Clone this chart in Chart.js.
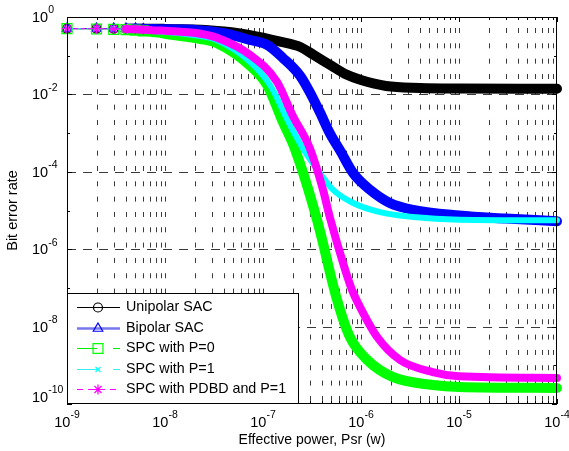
<!DOCTYPE html>
<html>
<head>
<meta charset="utf-8">
<title>Bit error rate vs effective power</title>
<script src="https://cdn.jsdelivr.net/npm/chart.js@4.4.1/dist/chart.umd.min.js"></script>
<style>
html,body{margin:0;padding:0;background:#ffffff;overflow:hidden;}
#c{display:block;}
</style>
</head>
<body>
<canvas id="c" width="569" height="451"></canvas>
<script>
const FONT = '"Liberation Sans", Arial, Helvetica, sans-serif';

// ---- data ----
const seriesNames = ['Unipolar SAC', 'Bipolar SAC', 'SPC with P=0', 'SPC with P=1', 'SPC with PDBD and P=1'];

const xUnipolar = [1e-9,2e-9,3e-9,4e-9,5e-9,6e-9,7e-9,8e-9,9e-9,1e-8,2.3e-8,4e-8,7.4e-8,1.5e-7,2.4e-7,3.3e-7,5e-7,7e-7,1e-6,1.8e-6,4e-6,1e-5,1e-4];
const yUnipolar = [0.5,0.5,0.5,0.5,0.5,0.5,0.5,0.5,0.5,0.49,0.47,0.42,0.34,0.23,0.168,0.104,0.055,0.033,0.0235,0.0165,0.0147,0.0142,0.014];

const xBipolar = [1e-9,2e-9,3e-9,4e-9,5e-9,6e-9,7e-9,8e-9,9e-9,1e-8,2.3e-8,4e-8,7.4e-8,1.1e-7,1.6e-7,2.4e-7,3e-7,3.8e-7,4.8e-7,6.1e-7,8.3e-7,1.24e-6,1.97e-6,3.4e-6,1e-5,3e-5,1e-4];
const yBipolar = [0.5,0.5,0.5,0.5,0.5,0.49,0.49,0.49,0.48,0.48,0.45,0.38,0.255,0.19,0.087,0.03,0.0115,3.5e-3,1e-3,3.6e-4,9.3e-5,3.4e-5,1.56e-5,1.03e-5,7.4e-6,6.2e-6,5.3e-6];

const xSpcP0 = [1e-9,2e-9,3e-9,4e-9,5e-9,6e-9,7e-9,8e-9,9e-9,1e-8,2.3e-8,3.4e-8,7.4e-8,1.1e-7,1.6e-7,2.1e-7,3.56e-7,5.7e-7,7.7e-7,1.15e-6,2.1e-6,5.4e-6,1e-5,1e-4];
const ySpcP0 = [0.5,0.49,0.48,0.47,0.46,0.44,0.42,0.40,0.39,0.37,0.27,0.21,0.055,0.0175,1.9e-3,4.1e-4,5.7e-6,4.9e-8,5.4e-9,1.4e-9,5.0e-10,3.1e-10,2.75e-10,2.6e-10];

const xSpcP1 = [1e-9,2e-9,3e-9,4e-9,5e-9,6e-9,7e-9,8e-9,9e-9,1e-8,2.3e-8,3.4e-8,7.4e-8,1.18e-7,1.89e-7,2.5e-7,3.8e-7,5.2e-7,8.3e-7,1.56e-6,3.4e-6,1e-5,1e-4];
const ySpcP1 = [0.5,0.5,0.49,0.48,0.47,0.46,0.45,0.43,0.42,0.41,0.32,0.25,0.069,0.0175,1.6e-3,4.4e-4,9.3e-5,3.4e-5,1.56e-5,9.1e-6,6.8e-6,5.8e-6,5.6e-6];

const xPdbd = [1e-9,2e-9,3e-9,4e-9,5e-9,6e-9,7e-9,8e-9,9e-9,1e-8,2.3e-8,3.4e-8,7.4e-8,1.39e-7,2.0e-7,3.0e-7,4.1e-7,4.8e-7,6.9e-7,8.1e-7,9.3e-7,1.46e-6,2.5e-6,5.4e-6,1e-5,1e-4];
const yPdbd = [0.5,0.5,0.49,0.49,0.48,0.47,0.46,0.45,0.45,0.44,0.37,0.29,0.104,0.021,2.9e-3,4.1e-4,3.4e-5,6.8e-6,2.9e-7,8.8e-8,4.1e-8,5.4e-9,1.37e-9,6.7e-10,5.2e-10,4.7e-10];

const xTickExponents = [-9, -8, -7, -6, -5, -4];
const yTickExponents = [0, -2, -4, -6, -8, -10];
const xTitle = 'Effective power, Psr (w)';
const yTitle = 'Bit error rate';

// ---- styles ----
const styles = [
  {color:'#000000', band:10, marker:'circle',   r:4.5, dash:[],    legColor:'#000000', legWidth:1},
  {color:'#0000ff', band:10, marker:'triangle', r:5.5, dash:[],    legColor:'#7777ee', legWidth:2.5},
  {color:'#00ff00', band:10, marker:'rect',     r:7,   dash:[6,4], legColor:'#00ee00', legWidth:1, legDash:[20,16]},
  {color:'#00ffff', band:6,  marker:'crossRot', r:3.5, dash:[6,4], legColor:'#33eeee', legWidth:1, legDash:[20,16]},
  {color:'#ff00ff', band:8,  marker:'star',     r:5,   dash:[4,3], legColor:'#ff00ff', legWidth:1, legDash:[6,5]}
];

const xs = [xUnipolar, xBipolar, xSpcP0, xSpcP1, xPdbd];
const ys = [yUnipolar, yBipolar, ySpcP0, ySpcP1, yPdbd];

function pts(xa, ya) { return xa.map((x, i) => ({x: x, y: ya[i]})); }

const datasets = seriesNames.map((name, i) => {
  const s = styles[i];
  return {
    label: name,
    data: pts(xs[i], ys[i]),
    borderColor: s.color,
    backgroundColor: 'rgba(0,0,0,0)',
    borderWidth: s.band,
    pointStyle: s.marker,
    pointBorderColor: s.color,
    pointBackgroundColor: 'rgba(0,0,0,0)',
    pointBorderWidth: 1.3,
    pointRadius: ctx => (ctx.dataIndex < 6 ? s.r : 0),
    pointHoverRadius: 0,
    cubicInterpolationMode: 'monotone',
    borderCapStyle: 'round',
    borderJoinStyle: 'round',
    fill: false,
    clip: 12,
    order: 4 - i,
    segment: {
      borderWidth: c => (c.p0DataIndex < 3 ? 1 : s.band),
      borderDash: c => (c.p0DataIndex < 3 ? s.dash : [])
    }
  };
});

function drawPow(ctx, exp, x, y, mode) {
  const baseFont = '14.5px ' + FONT;
  const expFont = '10.5px ' + FONT;
  ctx.font = baseFont;
  const wb = ctx.measureText('10').width;
  ctx.font = expFont;
  const we = ctx.measureText(String(exp)).width;
  let x0;
  if (mode === 'center') x0 = x - (wb + we) / 2; else x0 = x;
  ctx.fillStyle = '#000';
  ctx.textAlign = 'left';
  ctx.textBaseline = 'middle';
  ctx.font = baseFont;
  ctx.fillText('10', x0, y);
  ctx.font = expFont;
  ctx.fillText(String(exp), x0 + wb, y - 7.5);
}

const matlabPlugin = {
  id: 'matlabAxes',
  beforeDatasetsDraw(chart) {
    const ctx = chart.ctx;
    const a = chart.chartArea;
    const xs_ = chart.scales.x, ys_ = chart.scales.y;
    ctx.save();
    ctx.strokeStyle = '#3a3a3a';
    ctx.lineWidth = 1;
    ctx.setLineDash([5, 10.33]);
    ctx.lineDashOffset = 4.33;
    for (let n = -9; n <= -5; n++) {
      for (let k = 1; k <= 9; k++) {
        if (n === -9 && k === 1) continue;
        const px = Math.round(xs_.getPixelForValue(k * Math.pow(10, n))) + 0.5;
        ctx.beginPath();
        ctx.moveTo(px, a.top);
        ctx.lineTo(px, a.bottom);
        ctx.stroke();
      }
    }
    ctx.setLineDash([9, 7]);
    ctx.lineDashOffset = 0;
    yTickExponents.forEach(e => {
      if (e === 0 || e === -10) return;
      const py = Math.round(ys_.getPixelForValue(Math.pow(10, e))) + 0.5;
      ctx.beginPath();
      ctx.moveTo(a.left, py);
      ctx.lineTo(a.right, py);
      ctx.stroke();
    });
    ctx.restore();
  },
  afterDatasetsDraw(chart) {
    const ctx = chart.ctx;
    const a = chart.chartArea;
    const xs_ = chart.scales.x, ys_ = chart.scales.y;
    ctx.save();
    ctx.setLineDash([]);
    ctx.strokeStyle = '#000';
    ctx.lineWidth = 1;
    ctx.strokeRect(a.left + 0.5, a.top + 0.5, a.right - a.left - 1, a.bottom - a.top - 1);
    for (let n = -9; n <= -4; n++) {
      for (let k = 1; k <= 9; k++) {
        if (n === -4 && k > 1) break;
        const px = Math.round(xs_.getPixelForValue(k * Math.pow(10, n))) + 0.5;
        const len = k === 1 ? 5 : 3;
        ctx.beginPath();
        ctx.moveTo(px, a.bottom); ctx.lineTo(px, a.bottom - len);
        ctx.moveTo(px, a.top); ctx.lineTo(px, a.top + len);
        ctx.stroke();
      }
    }
    for (let e = 0; e >= -10; e--) {
      const py = Math.round(ys_.getPixelForValue(Math.pow(10, e))) + 0.5;
      const len = (e % 2 === 0) ? 5 : 3;
      ctx.beginPath();
      ctx.moveTo(a.left, py); ctx.lineTo(a.left + len, py);
      ctx.moveTo(a.right, py); ctx.lineTo(a.right - len, py);
      ctx.stroke();
    }
    xTickExponents.forEach(e => {
      const px = xs_.getPixelForValue(Math.pow(10, e));
      drawPow(ctx, e, px, a.bottom + 19, 'center');
    });
    yTickExponents.forEach(e => {
      const py = ys_.getPixelForValue(Math.pow(10, e));
      drawPow(ctx, e, 32, Math.min(py + 1, a.bottom - 6), 'left');
    });
    ctx.fillStyle = '#000';
    ctx.font = '14px ' + FONT;
    ctx.textAlign = 'center';
    ctx.textBaseline = 'middle';
    ctx.fillText(xTitle, (a.left + a.right) / 2, 440);
    ctx.save();
    ctx.translate(12.5, (a.top + a.bottom) / 2);
    ctx.rotate(-Math.PI / 2);
    ctx.font = '14.5px ' + FONT;
    ctx.fillText(yTitle, 0, 0);
    ctx.restore();

    const lx0 = 67, ly0 = 293, lx1 = 299, ly1 = a.bottom;
    ctx.fillStyle = '#ffffff';
    ctx.fillRect(lx0, ly0, lx1 - lx0, ly1 - ly0);
    ctx.strokeStyle = '#000';
    ctx.lineWidth = 1;
    ctx.strokeRect(lx0 + 0.5, ly0 + 0.5, lx1 - lx0 - 1, ly1 - ly0 - 1);
    seriesNames.forEach((name, i) => {
      const s = styles[i];
      const y = Math.round(307 + i * 20.5) + 0.5;
      ctx.save();
      ctx.strokeStyle = s.legColor;
      ctx.lineWidth = s.legWidth;
      ctx.setLineDash(s.legDash || []);
      ctx.beginPath();
      ctx.moveTo(77, y); ctx.lineTo(120, y);
      ctx.stroke();
      ctx.setLineDash([]);
      ctx.strokeStyle = s.color;
      ctx.fillStyle = 'rgba(0,0,0,0)';
      ctx.lineWidth = 1.2;
      Chart.helpers.drawPoint(ctx, {pointStyle: s.marker, radius: s.r, borderWidth: 1.2, rotation: 0}, 98, y);
      ctx.restore();
      ctx.fillStyle = '#000';
      ctx.font = '14.3px ' + FONT;
      ctx.textAlign = 'left';
      ctx.textBaseline = 'middle';
      ctx.fillText(name, 126, y);
    });
    ctx.restore();
  }
};

new Chart(document.getElementById('c'), {
  type: 'line',
  data: {datasets: datasets},
  options: {
    responsive: false,
    devicePixelRatio: 1,
    animation: false,
    events: [],
    layout: {padding: {left: 67, right: 12, top: 17, bottom: 47}},
    plugins: {legend: {display: false}, tooltip: {enabled: false}, title: {display: false}},
    scales: {
      x: {type: 'logarithmic', min: 1e-9, max: 1e-4, display: false},
      y: {type: 'logarithmic', min: 1e-10, max: 1, display: false}
    }
  },
  plugins: [matlabPlugin]
});
</script>
</body>
</html>
